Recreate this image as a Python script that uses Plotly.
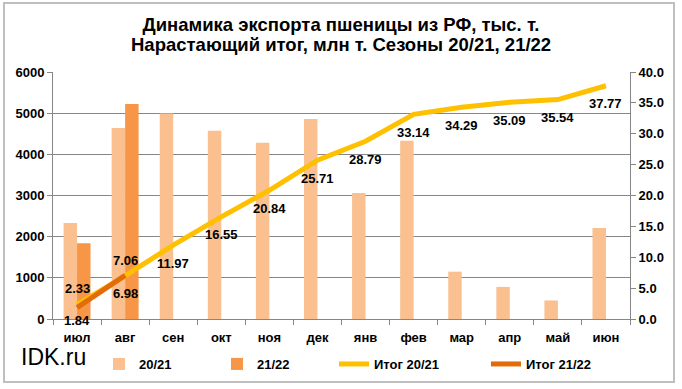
import plotly.graph_objects as go

months = ["июл", "авг", "сен", "окт", "ноя", "дек", "янв", "фев", "мар", "апр", "май", "июн"]
exp_2021 = [2330, 4640, 4990, 4570, 4280, 4860, 3060, 4330, 1150, 780, 450, 2210]
exp_2122 = [1840, 5220]
cum_2021 = [2.33, 6.98, 11.97, 16.55, 20.84, 25.71, 28.79, 33.14, 34.29, 35.09, 35.54, 37.77]
cum_2122 = [1.84, 7.06]
left_ticks = [0, 1000, 2000, 3000, 4000, 5000, 6000]
right_ticks = [0, 5, 10, 15, 20, 25, 30, 35, 40]
title_1 = "Динамика экспорта пшеницы из РФ, тыс. т."
title_2 = "Нарастающий итог, млн т. Сезоны 20/21, 21/22"

W, H = 682, 389
L, R, T, B = 53, 52, 72, 70
pw, ph = W - L - R, H - T - B

def px(x):
    return (x - L) / pw

def py(y):
    return (H - B - y) / ph

font_main = "Liberation Sans, Arial, sans-serif"

fig = go.Figure()
fig.add_trace(go.Bar(x=months, y=exp_2021, name="20/21", marker_color="#FAC090",
                     marker_line_width=0, legend="legend"))
fig.add_trace(go.Bar(x=months[:len(exp_2122)], y=exp_2122, name="21/22", marker_color="#F79646",
                     marker_line_width=0, legend="legend2"))
fig.add_trace(go.Scatter(x=months, y=cum_2021, name="Итог 20/21", mode="lines",
                         line=dict(color="#FFC000", width=5), yaxis="y2", legend="legend3"))
fig.add_trace(go.Scatter(x=months[:len(cum_2122)], y=cum_2122, name="Итог 21/22", mode="lines",
                         line=dict(color="#E36C09", width=5), yaxis="y2", legend="legend4"))

lab_font = dict(family=font_main, size=13, color="black", weight="bold")
shift_2021 = [16] + [-18] * (len(cum_2021) - 1)
for m, v, s in zip(months, cum_2021, shift_2021):
    fig.add_annotation(x=m, y=v, yref="y2", text=f"{v:.2f}", showarrow=False, yshift=s, font=lab_font)
shift_2122 = [-13, 15]
for m, v, s in zip(months, cum_2122, shift_2122):
    fig.add_annotation(x=m, y=v, yref="y2", text=f"{v:.2f}", showarrow=False, yshift=s, font=lab_font,
                       height=13, valign="middle")

axis_font = dict(family=font_main, size=13, color="black", weight="bold")

def leg(xpix):
    return dict(orientation="h", x=px(xpix), xanchor="left", y=py(349), yanchor="top",
                font=dict(family=font_main, size=13, color="black", weight="bold"),
                bgcolor="rgba(0,0,0,0)")

title_font = dict(family=font_main, size=18.5, color="black", weight="bold")
fig.update_layout(
    width=W, height=H, margin=dict(l=L, r=R, t=T, b=B, autoexpand=False),
    paper_bgcolor="white", plot_bgcolor="white",
    barmode="group", bargap=0.44, bargroupgap=0,
    font=dict(family=font_main, size=13, color="black"),
    title=dict(text=title_1, x=341 / W, xanchor="center", y=1 - 25 / H, yanchor="middle",
               font=title_font),
    xaxis=dict(type="category", tickson="boundaries", ticks="outside", ticklen=5,
               tickcolor="#868686", showline=True, linecolor="#868686", linewidth=1,
               tickfont=axis_font, showgrid=False, ticklabelstandoff=6),
    yaxis=dict(range=[0, 6000], tickvals=left_ticks, tickformat="d", ticks="outside", ticklen=5,
               tickcolor="#868686", showline=True, linecolor="#868686", showgrid=True,
               gridcolor="#868686", gridwidth=1, tickfont=axis_font, zeroline=False),
    yaxis2=dict(range=[0, 40], tickvals=right_ticks, tickformat=".1f", overlaying="y", side="right",
                ticks="outside", ticklen=5, tickcolor="#868686", showline=True, linecolor="#868686",
                showgrid=False, tickfont=axis_font, zeroline=False),
    legend=leg(99), legend2=leg(217), legend3=leg(334), legend4=leg(486),
    showlegend=True,
)
fig.add_annotation(text=title_2, xref="paper", yref="paper", x=px(341), y=py(44), xanchor="center",
                   yanchor="middle", showarrow=False, font=title_font)
fig.add_shape(type="rect", xref="paper", yref="paper", x0=px(4), x1=px(674), y0=py(382), y1=py(3),
              line=dict(color="#BFBFBF", width=2), layer="below")
fig.add_annotation(text="IDK.ru", xref="paper", yref="paper", x=px(19), y=py(357), xanchor="left",
                   yanchor="middle", showarrow=False,
                   font=dict(family=font_main, size=23, color="black"))

post = "document.body.style.margin = '0';"
fig.write_html("out.html", post_script=post, config={"displayModeBar": False})
